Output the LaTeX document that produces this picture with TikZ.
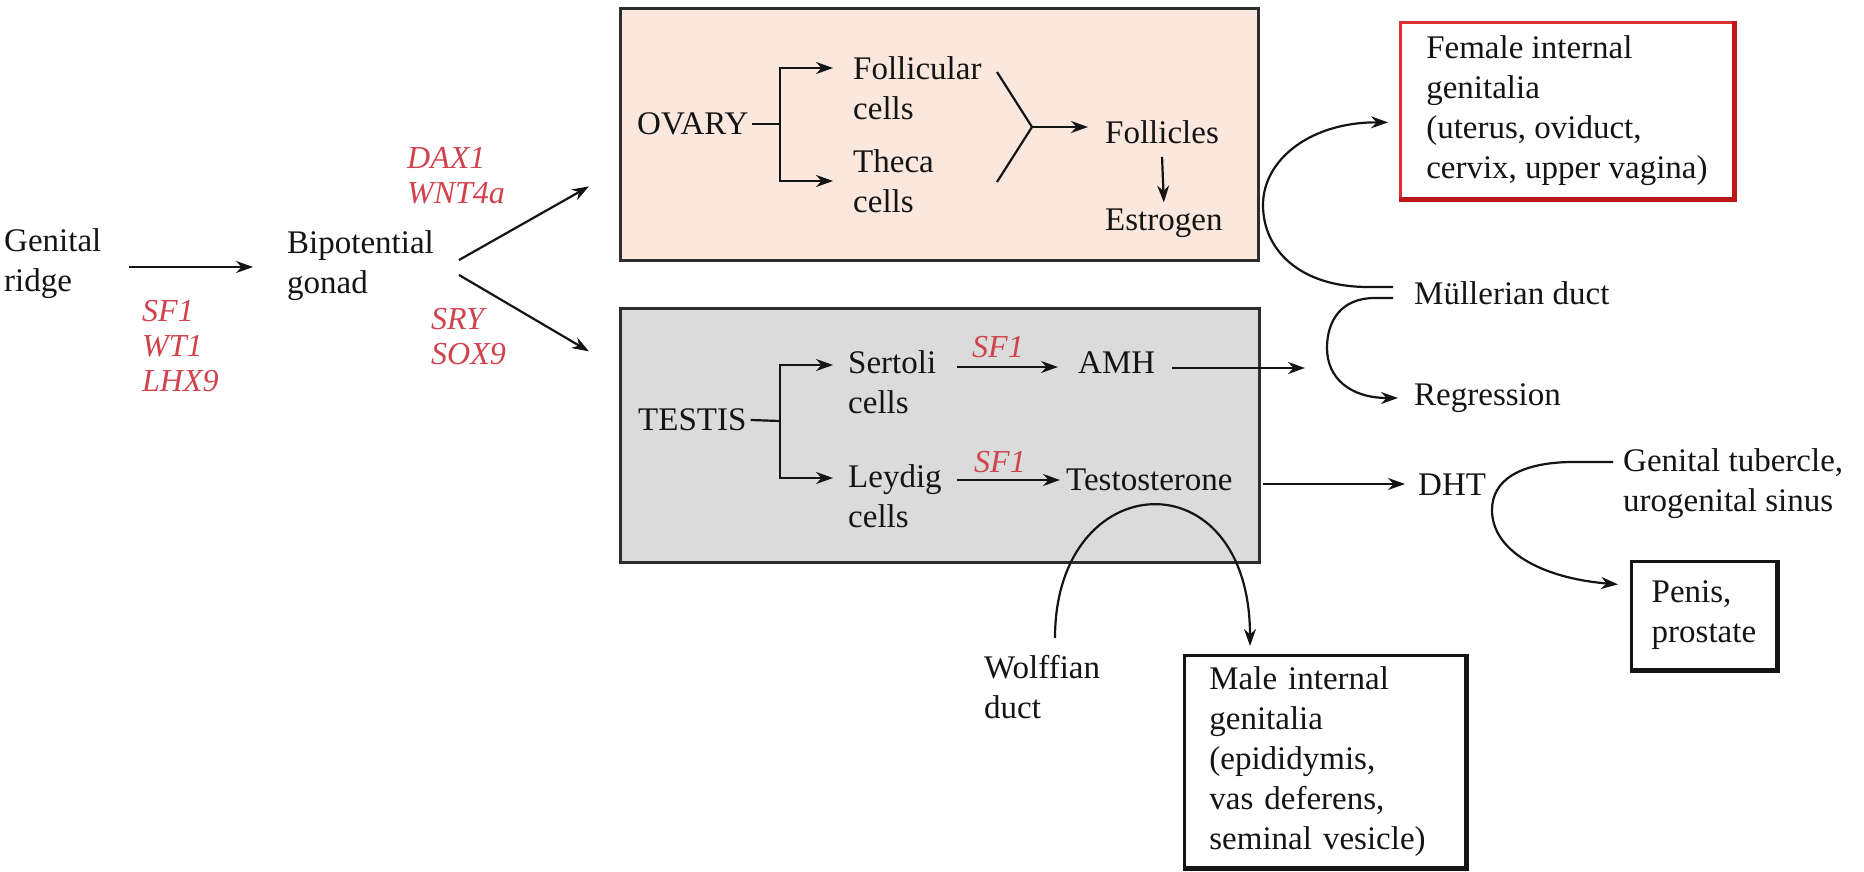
\documentclass[tikz,border=0pt]{standalone}
\usepackage{fontspec}
\setmainfont{Liberation Serif}
\usetikzlibrary{arrows.meta}
\definecolor{genered}{RGB}{208,66,76}
\definecolor{ovfill}{RGB}{250,231,222}
\definecolor{tfill}{RGB}{219,219,219}
\definecolor{boxline}{RGB}{45,45,45}
\definecolor{femred}{RGB}{220,50,50}
\definecolor{femdark}{RGB}{185,25,25}
\definecolor{ink}{RGB}{20,20,20}
\newcommand\mainfs{\fontsize{33}{40}\selectfont}
\newcommand\genefs{\fontsize{32}{35}\selectfont\itshape}
\begin{document}
\begin{tikzpicture}[x=1pt,y=-1pt,
 every node/.style={inner sep=0pt, font=\mainfs, text=ink},
 lbl/.style={align=left, anchor=west},
 gene/.style={align=left, anchor=west, text=genered, font=\genefs},
 ln/.style={line width=2.2pt, draw=ink},
 arr/.style={ln, -{Stealth[length=17pt,width=12pt]}},
 organ/.style={draw=boxline, line width=2.8pt, anchor=north west},
 endbox/.style={draw=ink, line width=2.8pt, anchor=north west, align=left},
]
\fill[white] (0,0) rectangle (1864,872);
\useasboundingbox (0,0) rectangle (1864,872);

% organ boxes
\node[organ, fill=ovfill, minimum width=638pt, minimum height=252pt] (ovbox) at (619,7) {};
\node[organ, fill=tfill, minimum width=639pt, minimum height=254pt] (tbox) at (619,307) {};

% left part
\node[lbl] (genital) at (4,264) {Genital\\ridge};
\node[lbl] (bip) at (287,266) {Bipotential\\gonad};
\node[gene] (g1) at (142,346) {SF1\\WT1\\LHX9};
\node[gene] (g2) at (407,176) {DAX1\\WNT4a};
\node[gene] (g3) at (431,337) {SRY\\SOX9};

\draw[arr] ([shift={(27,3)}]genital.east) -- ([shift={(-34,1)}]bip.west);
\draw[arr] ([shift={(25,-6)}]bip.east) -- ([shift={(-30,52)}]ovbox.west);
\draw[arr] ([shift={(25,9)}]bip.east) -- ([shift={(-30,-84)}]tbox.west);

% ovary content
\node[lbl] (ovary) at (637,124) {OVARY};
\node[lbl] (foll) at (853,88) {Follicular\\cells};
\node[lbl] (theca) at (853,181) {Theca\\cells};
\node[lbl] (follicles) at (1105,132) {Follicles};
\node[lbl] (estrogen) at (1105,223) {Estrogen};
\coordinate (ovj) at (780,124);
\draw[ln] ([xshift=3pt]ovary.east) -- (ovj);
\draw[arr] (ovj) |- ([shift={(-20,-20)}]foll.west);
\draw[arr] (ovj) |- ([xshift=-20pt]theca.west);
\coordinate (ya) at (997,72);
\coordinate (yb) at (997,182);
\coordinate (yj) at (1032,127);
\draw[ln] (ya) -- (yj) -- (yb);
\draw[arr] (yj) -- ([shift={(-17,-5)}]follicles.west);
\draw[arr] ([yshift=-13pt]follicles.south) -- ([yshift=6pt]estrogen.north);

% testis content
\node[lbl] (testis) at (638,420) {TESTIS};
\node[lbl] (sertoli) at (848,382) {Sertoli\\cells};
\node[lbl] (leydig) at (848,496) {Leydig\\cells};
\node[lbl] (amh) at (1078,363) {AMH};
\node[lbl] (testo) at (1066,480) {Testosterone};
\node[gene, anchor=center] (sf1a) at (998,347) {SF1};
\node[gene, anchor=center] (sf1b) at (1000,462) {SF1};
\coordinate (tj) at (780,421);
\draw[ln] ([xshift=4pt]testis.east) -- (tj);
\draw[arr] (tj) |- ([shift={(-15,-17)}]sertoli.west);
\draw[arr] (tj) |- ([shift={(-15,-18)}]leydig.west);
\draw[arr] ([shift={(21,-15)}]sertoli.east) -- ([shift={(-20,4)}]amh.west);
\draw[arr] ([shift={(15.5,-16)}]leydig.east) -- ([shift={(-6,0)}]testo.west);

% right part
\node[endbox, draw=femred, minimum width=333pt, minimum height=176pt] (fem) at (1399,21)
  {Female internal\\genitalia\\(uterus, oviduct,\\cervix, upper vagina)};
\draw[femdark, line width=5pt] (fem.south west) -- (fem.south east) -- (fem.north east);
\node[lbl] (mull) at (1414,293) {Müllerian duct};
\node[lbl] (regr) at (1414,398) {Regression};
\node[lbl] (dht) at (1418,485) {DHT};
\node[lbl] (gt) at (1623,484) {Genital tubercle,\\urogenital sinus};
\node[endbox, minimum width=145pt, minimum height=108pt] (penis) at (1630,560) {Penis,\\prostate};
\draw[line width=5pt, draw=ink] (penis.south west) -- (penis.south east) -- (penis.north east);
\node[lbl] (wolff) at (984,687) {Wolffian\\duct};
\node[endbox, text width=231pt, minimum width=281pt, minimum height=212pt] (male) at (1183,654)
  {Male internal\\genitalia\\(epididymis,\\vas deferens,\\seminal vesicle)};
\draw[line width=5pt, draw=ink] (male.south west) -- (male.south east) -- (male.north east);

\coordinate (amhend) at (1305,368);
\draw[arr] ([shift={(17,5)}]amh.east) -- (amhend);
\draw[arr] ([shift={(30,4)}]testo.east) -- ([shift={(-13,-1)}]dht.west);

\draw[arr] ([shift={(-21,-6)}]mull.west) -- (1368,287)
  .. controls (1300,287) and (1263,250) .. (1263,205)
  .. controls (1263,160) and (1310,122) .. ([shift={(-11,12)}]fem.west);
\draw[arr] ([shift={(-21,5)}]mull.west) -- (1375,298)
  .. controls (1340,298) and (1327,322) .. (1327,348)
  .. controls (1327,378) and (1350,398) .. ([shift={(-16,0)}]regr.west);
\draw[arr] ([shift={(-10,-22)}]gt.west) -- (1570,462)
  .. controls (1520,463) and (1492,480) .. (1492,510)
  .. controls (1492,550) and (1540,578) .. ([shift={(-12,-31)}]penis.west);
\draw[arr] ([shift={(71,-49)}]wolff.west)
  .. controls (1055,465) and (1250,455) .. ([shift={(67,-8)}]male.north west);
\end{tikzpicture}
\end{document}
